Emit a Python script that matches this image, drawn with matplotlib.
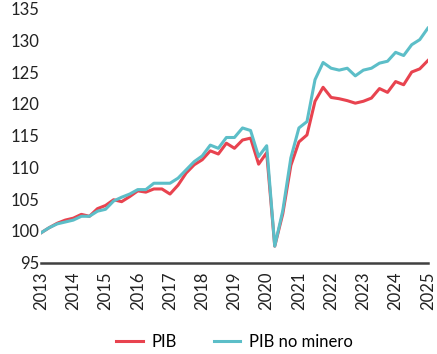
import matplotlib
matplotlib.use("Agg")
import matplotlib.pyplot as plt
import numpy as np

# Quarterly index, 2013Q1 = 100
years = list(range(2013, 2026))

pib = [99.7, 100.5, 101.2, 101.7, 102.0, 102.6, 102.3, 103.5,
       104.0, 104.9, 104.6, 105.4, 106.3, 106.1, 106.6, 106.6,
       105.8, 107.2, 109.1, 110.4, 111.2, 112.6, 112.1, 113.8,
       113.0, 114.3, 114.6, 110.5, 112.3, 97.6, 102.7, 110.3,
       114.0, 115.1, 120.4, 122.6, 121.0, 120.8, 120.5, 120.1,
       120.4, 120.9, 122.4, 121.8, 123.5, 123.0, 125.0, 125.5,
       126.8]

pib_no_minero = [99.7, 100.5, 101.1, 101.4, 101.7, 102.3, 102.3, 103.1,
                 103.4, 104.7, 105.3, 105.8, 106.5, 106.5, 107.5, 107.5,
                 107.5, 108.3, 109.6, 110.9, 111.8, 113.5, 113.0, 114.7,
                 114.7, 116.2, 115.8, 111.7, 113.4, 97.6, 103.2, 111.5,
                 116.2, 117.2, 123.8, 126.5, 125.6, 125.3, 125.6, 124.4,
                 125.3, 125.6, 126.4, 126.7, 128.1, 127.6, 129.3, 130.1,
                 131.9]

red = "#E8434F"
teal = "#5CBEC8"

plt.rcParams["font.family"] = ["Lato", "DejaVu Sans"]

fig = plt.figure(figsize=(4.37, 3.54), dpi=100)
ax = fig.add_axes([0.094, 0.258, 0.885, 0.718])

x = np.arange(len(pib))
ax.plot(x, pib, color=red, lw=2.2, label="PIB", solid_joinstyle="round")
ax.plot(x, pib_no_minero, color=teal, lw=2.2, label="PIB no minero", solid_joinstyle="round")

ax.set_xlim(0, len(pib) - 1)
ax.set_ylim(95, 135)
ax.set_yticks(np.arange(95, 136, 5))
ax.set_xticks(np.arange(0, len(pib), 4))
ax.set_xticklabels([str(y) for y in years], rotation=90)
ax.tick_params(axis="both", length=0, labelsize=12, colors="#222222")
ax.tick_params(axis="x", pad=6)
ax.tick_params(axis="y", pad=1)

for s in ["top", "right", "left"]:
    ax.spines[s].set_visible(False)
ax.spines["bottom"].set_color("#404040")
ax.spines["bottom"].set_linewidth(1.8)

ax.legend(loc="upper center", bbox_to_anchor=(0.5, -0.22), ncol=2, frameon=False,
          fontsize=12, handlelength=1.6, columnspacing=2.2, handletextpad=0.5)

fig.savefig("out.png", dpi=100)
